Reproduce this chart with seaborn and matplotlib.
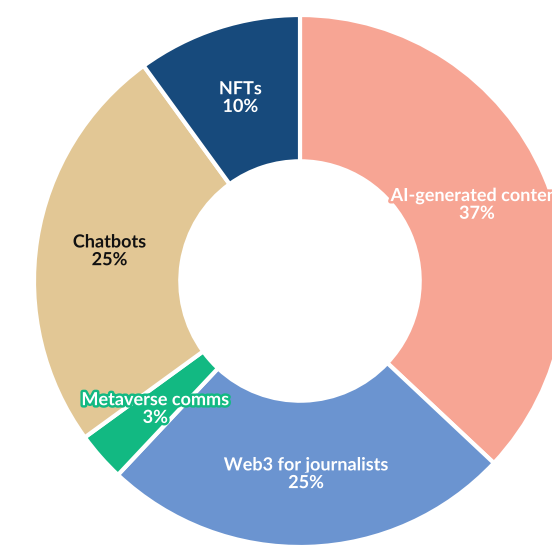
import matplotlib
matplotlib.use("Agg")
import matplotlib.pyplot as plt
import matplotlib.patheffects as pe
import seaborn as sns

categories = ["AI-generated content", "Web3 for journalists", "Metaverse comms", "Chatbots", "NFTs"]
values = [37, 25, 3, 25, 10]
colors = ["#F7A594", "#6B94D0", "#12B982", "#E2C795", "#174A7C"]
text_colors = ["white", "white", "white", "#111111", "white"]

sns.set_theme(style="white")
plt.rcParams["font.family"] = ["Lato", "DejaVu Sans"]
palette = sns.color_palette(colors)

fig = plt.figure(figsize=(5.52, 5.46), dpi=100)
ax = fig.add_axes([0, 0, 1, 1])

counter = {"i": 0}
def fmt(pct):
    i = counter["i"]
    counter["i"] += 1
    return f"{categories[i]}\n{pct:.0f}%"

wedges, texts, autotexts = ax.pie(
    values, colors=palette, startangle=90, counterclock=False,
    radius=1.0, autopct=fmt, pctdistance=0.725,
    wedgeprops=dict(width=0.55, edgecolor="white", linewidth=3, joinstyle="round"),
)
for t, tc, c in zip(autotexts, text_colors, colors):
    t.set_color(tc)
    t.set_fontsize(13)
    t.set_fontweight("bold")
    t.set_linespacing(1.05)
    t.set_path_effects([pe.withStroke(linewidth=3.5, foreground=c)])

ax.set_aspect("auto")
ax.set_xlim(-300 / 266, 252 / 266)
ax.set_ylim(-265 / 266, 281 / 266)
ax.axis("off")
fig.savefig("out.png", dpi=100)
